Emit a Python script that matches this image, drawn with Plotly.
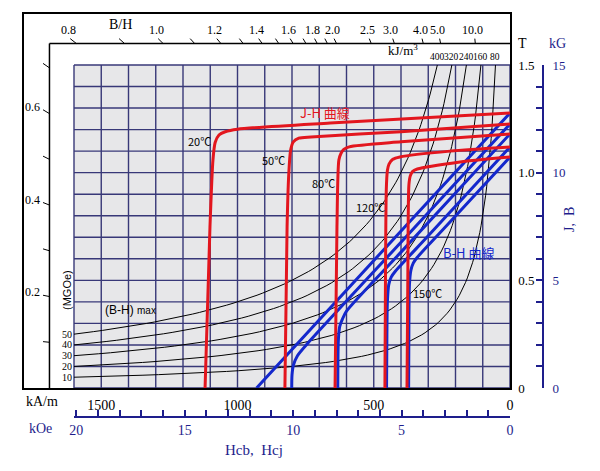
import numpy as np
import plotly.graph_objects as go

# ---------------- data ----------------
temps = ["20℃", "50℃", "80℃", "120℃", "150℃"]

# J-H (intrinsic) curves: H = demagnetizing field [kA/m], J [T]
jh_H_20 = [0, 660, 1000, 1045, 1068, 1082, 1090, 1101, 1119]
jh_J_20 = [1.277, 1.231, 1.202, 1.190, 1.175, 1.140, 1.060, 0.750, 0.0]
jh_H_50 = [0, 400, 730, 775, 795, 805, 812, 818, 826]
jh_J_50 = [1.226, 1.190, 1.166, 1.160, 1.143, 1.105, 0.990, 0.750, 0.0]
jh_H_80 = [0, 400, 590, 610, 620, 628, 635, 642]
jh_J_80 = [1.180, 1.143, 1.120, 1.108, 1.090, 1.059, 0.748, 0.0]
jh_H_120 = [0, 220, 404, 430, 444, 450, 454, 457, 459]
jh_J_120 = [1.119, 1.100, 1.073, 1.062, 1.040, 1.010, 0.920, 0.500, 0.0]
jh_H_150 = [0, 183, 340, 358, 366, 371, 375, 378]
jh_J_150 = [1.073, 1.050, 1.017, 1.005, 0.985, 0.943, 0.500, 0.0]

# B-H (normal) curves: H [kA/m], B [T]
bh_H_20 = [0, 465, 930]
bh_B_20 = [1.277, 0.640, 0.0]
bh_H_50 = [0, 400, 740, 780, 795, 800, 801]
bh_B_50 = [1.226, 0.677, 0.211, 0.150, 0.105, 0.060, 0.0]
bh_H_80 = [0, 400, 600, 615, 625, 630, 632]
bh_B_80 = [1.180, 0.631, 0.357, 0.320, 0.285, 0.220, 0.0]
bh_H_120 = [0, 300, 420, 436, 445, 450, 452, 453]
bh_B_120 = [1.119, 0.707, 0.543, 0.515, 0.480, 0.400, 0.200, 0.0]
bh_H_150 = [0, 250, 340, 355, 364, 369, 371, 372]
bh_B_150 = [1.073, 0.730, 0.607, 0.580, 0.545, 0.480, 0.300, 0.0]

# (BH)max iso-energy curves
bhmax_kJ = [80, 160, 240, 320, 400]
bhmax_MGOe = ["10", "20", "30", "40", "50"]

# permeance (B/H) scales
pc_top_ticks = [0.8, 0.9, 1.0, 1.1, 1.2, 1.3, 1.4, 1.5, 1.6, 1.7, 1.8, 1.9, 2.0, 2.5, 3.0, 4.0, 5.0, 10.0]
pc_top_labels = [0.8, 1.0, 1.2, 1.4, 1.6, 1.8, 2.0, 2.5, 3.0, 4.0, 5.0, 10.0]
pc_left_ticks = [0.1, 0.2, 0.3, 0.4, 0.5, 0.6, 0.7]
pc_left_labels = [0.2, 0.4, 0.6]

# axis tick labels
kAm_ticks = [1500, 1000, 500, 0]
T_ticks = [0, 0.5, 1.0, 1.5]
T_labels = ["0", "0.5", "1.0", "1.5"]
kOe_major = [0, 5, 10, 15, 20]
kOe_minor = list(range(0, 21))
kG_major = [0, 5, 10, 15]
kG_minor = list(range(0, 16))

# ---------------- constants / layout geometry ----------------
MU0 = 4e-7 * np.pi
H_GRID, B_GRID = 1600, 1.5          # grid extent
H_FRAME, B_FRAME = 1690, 1.6        # inner scale frame
OFF = 8                             # default page (body) margin
W, HGT = 600 - OFF, 471 - OFF
ML, MT = 24 - OFF, 14 - OFF
MR = W - (590 - OFF)
MB = HGT - (445 - OFF)
PW, PH = W - ML - MR, HGT - MT - MB

def fx(px):
    return (px - OFF - ML) / PW

def fy(py):
    return (HGT - MB - (py - OFF)) / PH

KPX = 436 / 1600.0                  # px per kA/m
TPX = 323 / 1.5                     # px per T
x_max = (510 - 24) / KPX
y_max = (388 - 14) / TPX

RED = "#e3161e"
BLUE = "#1428cc"
NAVY = "#1e1e8c"
GRID = "#383878"
SERIF = "Liberation Serif, Times New Roman, serif"
SANS = "Liberation Sans, Arial, sans-serif"
CJK = "Noto Sans CJK JP, sans-serif"

fig = go.Figure()

# iso-energy curves
for E in bhmax_kJ:
    hh = np.geomspace(E / B_GRID, H_GRID, 80)
    fig.add_trace(go.Scatter(x=hh, y=E / hh, mode="lines",
                             line=dict(color="black", width=1),
                             hoverinfo="skip", showlegend=False))

jh_sets = [(jh_H_20, jh_J_20), (jh_H_50, jh_J_50), (jh_H_80, jh_J_80),
           (jh_H_120, jh_J_120), (jh_H_150, jh_J_150)]
bh_sets = [(bh_H_20, bh_B_20), (bh_H_50, bh_B_50), (bh_H_80, bh_B_80),
           (bh_H_120, bh_B_120), (bh_H_150, bh_B_150)]

for (h, b), t in zip(bh_sets, temps):
    fig.add_trace(go.Scatter(x=h, y=b, mode="lines", name="B-H " + t,
                             line=dict(color=BLUE, width=3, shape="spline", smoothing=0.7),
                             showlegend=False))
for (h, j), t in zip(jh_sets, temps):
    fig.add_trace(go.Scatter(x=h, y=j, mode="lines", name="J-H " + t,
                             line=dict(color=RED, width=3, shape="spline", smoothing=0.7),
                             showlegend=False))

# dummy trace to host the kOe / kG axes
fig.add_trace(go.Scatter(x=[10], y=[5], xaxis="x2", yaxis="y3", mode="markers",
                         marker=dict(opacity=0), hoverinfo="skip", showlegend=False))

shapes = []
shapes.append(dict(type="rect", xref="x", yref="y", x0=0, x1=H_GRID, y0=0, y1=B_GRID,
                   fillcolor="#e7e7e9", line=dict(width=0), layer="below"))
for h in range(0, H_GRID + 1, 100):
    shapes.append(dict(type="line", xref="x", yref="y", x0=h, x1=h, y0=0, y1=B_GRID,
                       line=dict(color=GRID, width=1.4), layer="below"))
for k in range(0, 16):
    b = k / 10
    shapes.append(dict(type="line", xref="x", yref="y", x0=0, x1=H_GRID, y0=b, y1=b,
                       line=dict(color=GRID, width=1.4), layer="below"))
# inner frame for permeance scales
shapes.append(dict(type="line", xref="x", yref="y", x0=H_FRAME, x1=0, y0=B_FRAME, y1=B_FRAME,
                   line=dict(color="black", width=1.5)))
shapes.append(dict(type="line", xref="x", yref="y", x0=H_FRAME, x1=H_FRAME, y0=0, y1=B_FRAME,
                   line=dict(color="black", width=1.5)))

annotations = []
S = 1.014
for pc in pc_top_ticks:
    ht = B_FRAME / (MU0 * pc) / 1000.0
    shapes.append(dict(type="line", xref="x", yref="y", x0=ht, x1=ht * S, y0=B_FRAME, y1=B_FRAME * S,
                       line=dict(color="black", width=1)))
for pc in pc_top_labels:
    ht = B_FRAME / (MU0 * pc) / 1000.0
    annotations.append(dict(x=ht * S, y=B_FRAME * S, xref="x", yref="y", text=f"{pc:.1f}",
                            showarrow=False, xanchor="center", yanchor="bottom", xshift=-2, yshift=0,
                            font=dict(family=SERIF, size=12, color="black")))
for pc in pc_left_ticks:
    bt = pc * MU0 * H_FRAME * 1000.0
    shapes.append(dict(type="line", xref="x", yref="y", x0=H_FRAME, x1=H_FRAME * S, y0=bt, y1=bt * S,
                       line=dict(color="black", width=1)))
for pc in pc_left_labels:
    bt = pc * MU0 * H_FRAME * 1000.0
    annotations.append(dict(x=H_FRAME * S, y=bt * S, xref="x", yref="y", text=f"{pc:.1f}",
                            showarrow=False, xanchor="right", yanchor="middle", xshift=-1, yshift=3,
                            font=dict(family=SERIF, size=12, color="black")))

# energy labels
for E in bhmax_kJ:
    annotations.append(dict(x=E / B_GRID, y=B_GRID, xref="x", yref="y", text=str(E),
                            showarrow=False, xanchor="center", yanchor="bottom", yshift=1,
                            font=dict(family=SERIF, size=9.5, color="black")))
for E, m in zip(bhmax_kJ, bhmax_MGOe):
    annotations.append(dict(x=H_GRID, y=E / H_GRID, xref="x", yref="y", text=m,
                            showarrow=False, xanchor="right", yanchor="middle", xshift=-1, borderpad=0,
                            font=dict(family=SERIF, size=10, color="black")))

def txt(xp, yp, text, size, color="black", family=SERIF, angle=0):
    annotations.append(dict(x=fx(xp), y=fy(yp), xref="paper", yref="paper", text=text,
                            showarrow=False, textangle=angle, xanchor="center", yanchor="middle",
                            font=dict(family=family, size=size, color=color)))

txt(120, 25, "B/H", 14)
txt(403, 50, "kJ/m<sup>3</sup>", 13)
txt(522, 44, "T", 14)
txt(557, 44, "kG", 14, NAVY)
txt(570, 220, "J,  B", 14, NAVY, angle=-90)
txt(42, 401, "kA/m", 14)
txt(40, 428, "kOe", 14, NAVY)
txt(254, 450, "Hcb,  Hcj", 15, NAVY)
txt(67, 290, "(MGOe)", 11, family=SANS, angle=-90)
txt(130, 310, "(B-H) <span style='font-size:10px'>max</span>", 12, family=SANS)
txt(199, 141, "20℃", 11, family=CJK)
txt(273, 160, "50℃", 11, family=CJK)
txt(323, 183, "80℃", 11, family=CJK)
txt(370, 207, "120℃", 11, family=CJK)
txt(427, 293, "150℃", 11, family=CJK)
txt(325, 113, "J-H 曲線", 13, RED, family=CJK)
txt(468, 252, "B-H 曲線", 13, BLUE, family=CJK)

minor_kw = dict(ticks="inside", ticklen=6, tickwidth=1.5, tickcolor=NAVY, showgrid=False)

fig.update_layout(
    width=W, height=HGT,
    margin=dict(l=ML, r=MR, t=MT, b=MB, autoexpand=False),
    paper_bgcolor="white", plot_bgcolor="rgba(0,0,0,0)",
    showlegend=False,
    shapes=shapes, annotations=annotations,
    xaxis=dict(domain=[0, fx(510)], range=[x_max, 0], showgrid=False, zeroline=False,
               automargin=False,
               showline=True, mirror=True, linecolor="black", linewidth=1.5,
               tickvals=kAm_ticks, ticktext=[str(v) for v in kAm_ticks], ticks="",
               ticklabelstandoff=3, tickfont=dict(family=SERIF, size=14, color="black")),
    yaxis=dict(domain=[fy(388), 1], range=[0, y_max], side="right", showgrid=False, zeroline=False,
               automargin=False,
               showline=True, mirror=True, linecolor="black", linewidth=1.5,
               tickvals=T_ticks, ticktext=T_labels, ticks="", ticklabelstandoff=4,
               tickfont=dict(family=SERIF, size=13, color="black")),
    xaxis2=dict(domain=[fx(74), fx(510)], range=[1600 / 79.5775, 0], anchor="free",
                automargin=False,
                position=fy(417), showgrid=False, zeroline=False, showline=True,
                linecolor=NAVY, linewidth=2, ticks="inside", ticklen=6, tickwidth=1.5,
                tickcolor=NAVY, tickvals=kOe_major, ticktext=[str(v) for v in kOe_major],
                minor=dict(tickmode="array", tickvals=kOe_minor, **minor_kw),
                tickfont=dict(family=SERIF, size=14, color=NAVY)),
    yaxis3=dict(domain=[fy(388), fy(65)], range=[0, 15], anchor="free", position=fx(543),
                automargin=False,
                side="right", showgrid=False, zeroline=False, showline=True,
                linecolor=NAVY, linewidth=2, ticks="inside", ticklen=6, tickwidth=1.5,
                tickcolor=NAVY, tickvals=kG_major, ticktext=[str(v) for v in kG_major],
                minor=dict(tickmode="array", tickvals=kG_minor, **minor_kw),
                ticklabelstandoff=6,
                tickfont=dict(family=SERIF, size=13, color=NAVY)),
)

fig.write_html("out.html")
